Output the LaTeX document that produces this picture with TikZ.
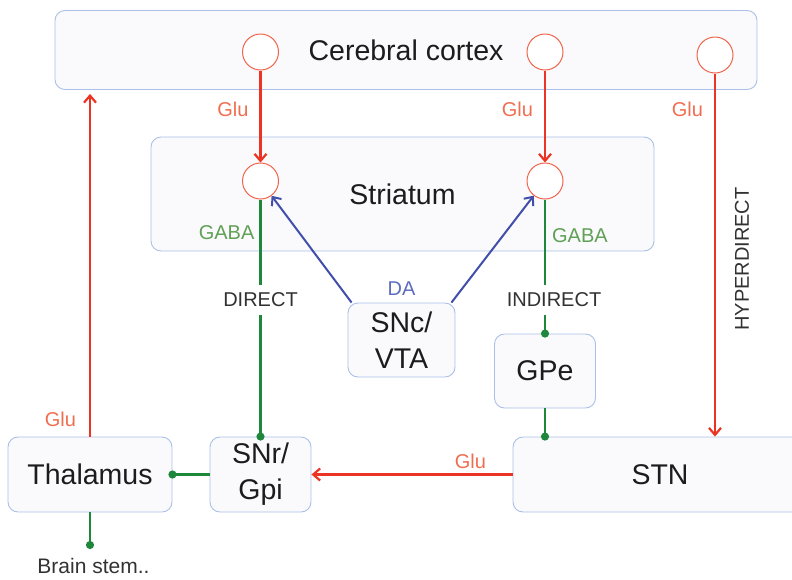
\documentclass[tikz,border=0pt]{standalone}
\usepackage{fontspec}
\setmainfont{Liberation Sans}
\usetikzlibrary{
  arrows.meta,
  calc,
  positioning,
}
\definecolor{boxline}{RGB}{170,192,232}
\definecolor{boxfill}{RGB}{250,250,252}
\definecolor{inkdark}{RGB}{28,28,28}
\definecolor{inkgray}{RGB}{50,50,50}
\definecolor{neuronline}{RGB}{240,100,75}
\definecolor{glured}{RGB}{235,52,35}
\definecolor{glutext}{RGB}{240,110,80}
\definecolor{gabagreen}{RGB}{30,135,60}
\definecolor{gabatext}{RGB}{95,160,85}
\definecolor{dablue}{RGB}{65,78,170}
\definecolor{datext}{RGB}{95,108,190}
\tikzset{
  >={Straight Barb[length=7pt,width=12pt]},
  region/.style={draw=boxline, fill=boxfill, rounded corners=10pt,
    line width=0.9pt, text=inkdark, align=center, inner sep=0pt,
    font=\fontsize{28.5}{36}\selectfont},
  neuron/.style={circle, draw=neuronline, fill=white, minimum size=36pt,
    inner sep=0pt, line width=1pt},
  gluline/.style={->, draw=glured, line width=2.2pt},
  gabaline/.style={-{Circle[length=8pt,width=8pt]}, draw=gabagreen,
    line width=2.2pt, shorten >=-4pt},
  daline/.style={->, draw=dablue, line width=2pt},
  tag/.style={font=\fontsize{20}{23}\selectfont, inner sep=2pt},
  glutag/.style={tag, text=glutext},
  gabatag/.style={tag, text=gabatext},
  pathtag/.style={tag, text=inkgray, fill=white, inner ysep=8pt},
}

\begin{document}
\begin{tikzpicture}[x=1pt, y=-1pt]
  \useasboundingbox (0,0) rectangle (792,579);

  % regions
  \node [region, minimum width=702pt, minimum height=79pt]
        (cortex) at (406,50) {Cerebral cortex};
  \node [region, minimum width=503pt, minimum height=114pt]
        (striatum) at (402.5,194) {Striatum};
  \node [region, minimum width=107pt, minimum height=74pt]
        (snc) at (401.5,340) {SNc/\\VTA};
  \node [region, minimum width=101pt, minimum height=74pt]
        (gpe) at (545,371) {GPe};
  \node [region, minimum width=164pt, minimum height=75pt]
        (thal) at (90,474.5) {Thalamus};
  \node [region, minimum width=101pt, minimum height=75pt]
        (snr) at (260.5,474.5) {SNr/\\Gpi};
  \node [region, minimum width=294pt, minimum height=75pt]
        (stn) at (660,474.5) {STN};

  % neurons
  \node [neuron] (c1) at (260.5,52) {};
  \node [neuron] (c2) at (545,52) {};
  \node [neuron] (c3) at (715,55) {};
  \node [neuron] (s1) at (260.5,181) {};
  \node [neuron] (s2) at (545,181) {};

  % glutamate
  \draw [gluline] (c1) -- node [glutag, anchor=east, pos=.42, xshift=-9pt] {Glu} (s1);
  \draw [gluline] (c2) -- node [glutag, anchor=east, pos=.42, xshift=-9pt] {Glu} (s2);
  \draw [gluline] (c3) -- node [glutag, anchor=east, pos=.1, xshift=-9pt] {Glu}
        (c3 |- stn.north);
  \draw [gluline, shorten >=4pt] (thal.north) --
        node [glutag, anchor=east, pos=.05, xshift=-11pt] {Glu} (thal.north |- cortex.south);
  \draw [gluline] (stn.west) --
        node [glutag, anchor=south, pos=.21, yshift=3pt] {Glu} (snr.east);

  % GABA
  \draw [gabaline] (s1) --
        node [gabatag, anchor=east, pos=.14, xshift=-3pt] {GABA}
        node [pathtag, pos=.424] {DIRECT} (snr);
  \draw [gabaline] (s2) --
        node [gabatag, anchor=west, pos=.27, xshift=4pt] {GABA}
        node [pathtag, pos=.75, xshift=9pt] {INDIRECT} (gpe);
  \draw [gabaline] (gpe.south) -- (gpe.south |- stn.north);
  \draw [gabaline] (snr.west) -- (thal.east);
  \coordinate (stemend) at (90,545);
  \draw [gabaline] (thal.south) -- (stemend);
  \node [tag, text=inkgray, font=\fontsize{21}{24}\selectfont]
        (stem) at (93.5,566) {Brain stem..};

  % dopamine
  \draw [daline] ([xshift=4pt]snc.north west) -- (s1);
  \draw [daline] ([xshift=-4pt]snc.north east) -- (s2);
  \node [tag, text=datext, above=5pt of snc] (da) {DA};

  \node [tag, text=inkgray, rotate=90] (hyper) at (742,259) {HYPERDIRECT};
\end{tikzpicture}
\end{document}
